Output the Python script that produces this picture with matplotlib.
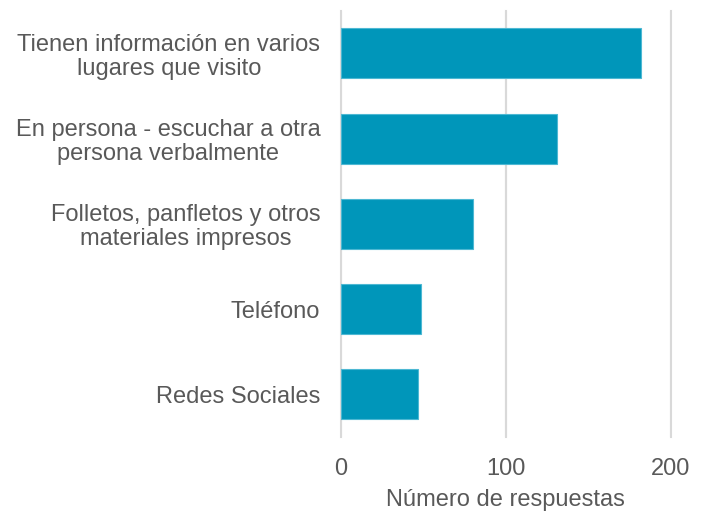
import matplotlib
matplotlib.use("Agg")
import matplotlib.pyplot as plt

categories = [
    "Tienen información en varios\nlugares que visito",
    "En persona - escuchar a otra\npersona verbalmente",
    "Folletos, panfletos y otros\nmateriales impresos",
    "Teléfono",
    "Redes Sociales",
]
values = [182, 131, 80, 49, 47]
xticks = [0, 100, 200]

plt.rcParams['font.family'] = ['Liberation Sans', 'DejaVu Sans']
text_color = '#595959'

fig = plt.figure(figsize=(7.01, 5.14), dpi=100)
ax = fig.add_axes([340.5/701, 1-436.8/514, (671-340.5)/701, (436.8-10.8)/514])

ypos = list(range(len(categories)))
ax.barh(ypos, values, height=0.588, color='#0096BA', edgecolor='#4DB8D3', linewidth=0.8, zorder=3)
ax.set_ylim(len(categories)-0.5, -0.5)
ax.set_xlim(0, 200)
ax.set_xticks(xticks)
ax.set_yticks(ypos)
ax.set_yticklabels(categories, fontsize=17, color=text_color, linespacing=1.1,
                   multialignment='center')
ax.set_xticklabels([str(t) for t in xticks], fontsize=17, color=text_color)
ax.tick_params(axis='both', length=0)
ax.tick_params(axis='y', pad=14.5)
ax.tick_params(axis='x', pad=15.5)
for s in ax.spines.values():
    s.set_visible(False)
ax.grid(axis='x', color='#D9D9D9', linewidth=1.5, zorder=0)
for t in xticks:
    ax.axvline(t, color='#D9D9D9', linewidth=1.5, zorder=0, clip_on=False)
ax.set_axisbelow(True)
ax.set_xlabel("Número de respuestas", fontsize=17, color=text_color, labelpad=6)

fig.savefig("out.png", dpi=100)
